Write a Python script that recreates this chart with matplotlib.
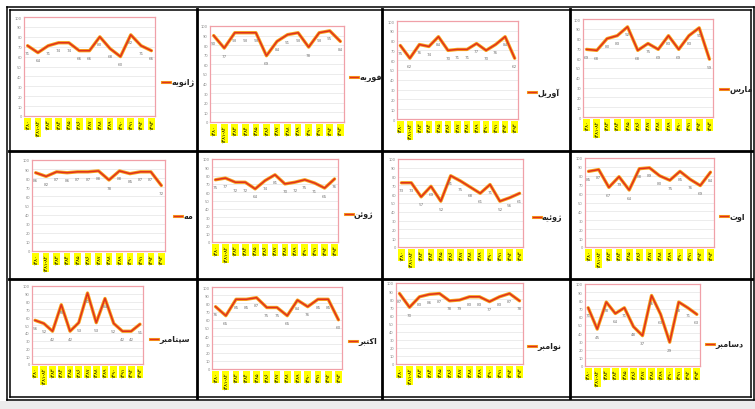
import matplotlib
matplotlib.use('Agg')
import matplotlib.pyplot as plt
from matplotlib.lines import Line2D
from matplotlib.patches import Rectangle

plt.rcParams['font.family'] = ['DejaVu Sans']

W, H = 755, 410

# monthly series, 13 periods each
months = ['ژانویه', 'فوریه', 'آوریل', 'مارس',
          'مه', 'ژوئن', 'ژوئیه', 'اوت',
          'سپتامبر', 'اکتبر', 'نوامبر', 'دسامبر']

periods = ['۱۳۸۰', '۱۳۸۱-۸۲', '۱۳۸۳', '۱۳۸۴', '۱۳۸۵', '۱۳۸۶', '۱۳۸۷',
           '۱۳۸۸', '۱۳۸۹', '۱۳۹۰', '۱۳۹۱', '۱۳۹۲', '۱۳۹۳']

jan = [71, 64, 71, 74, 74, 66, 66, 80, 68, 60, 82, 71, 66]
feb = [90, 77, 93, 93, 93, 69, 84, 91, 93, 78, 93, 95, 84]
apr = [75, 62, 76, 74, 84, 70, 71, 71, 77, 70, 76, 84, 62]
mar = [69, 68, 80, 83, 92, 68, 75, 69, 83, 69, 83, 91, 59]
may = [86, 82, 87, 86, 87, 87, 88, 78, 88, 85, 87, 87, 72]
jun = [75, 77, 72, 72, 64, 74, 81, 70, 72, 75, 71, 65, 76]
jul = [73, 73, 57, 69, 52, 81, 75, 68, 61, 71, 52, 56, 61]
aug = [85, 87, 67, 79, 64, 88, 89, 80, 75, 85, 76, 69, 84]
sep = [56, 52, 42, 76, 42, 53, 91, 53, 84, 52, 42, 42, 51]
oct_ = [76, 65, 85, 85, 87, 75, 75, 65, 84, 76, 85, 85, 60]
nov = [87, 70, 83, 86, 87, 78, 79, 83, 83, 77, 83, 87, 78]
dec = [71, 45, 78, 64, 71, 48, 37, 86, 63, 29, 78, 71, 63]

series = [jan, feb, apr, mar, may, jun, jul, aug, sep, oct_, nov, dec]

# plot boxes in pixels (left, top, right, bottom) and legend anchors
boxes = [(24, 18, 155, 117), (210, 27, 344, 123), (397, 22, 518, 120), (583, 20, 713, 118),
         (32, 161, 165, 252), (212, 160, 338, 243), (398, 160, 523, 248), (585, 159, 714, 248),
         (32, 287, 143, 365), (212, 288, 342, 370), (396, 284, 523, 365), (585, 285, 700, 367)]
legpos = [(162, 83), (350, 78), (528, 93), (720, 90),
          (174, 217), (345, 215), (533, 218), (720, 217),
          (150, 340), (349, 342), (528, 347), (706, 345)]

FORMS = {
    'ا': ('\uFE8D', '\uFE8E', None, None),
    'آ': ('\uFE81', '\uFE82', None, None),
    'ب': ('\uFE8F', '\uFE90', '\uFE91', '\uFE92'),
    'پ': ('\uFB56', '\uFB57', '\uFB58', '\uFB59'),
    'ت': ('\uFE95', '\uFE96', '\uFE97', '\uFE98'),
    'د': ('\uFEA9', '\uFEAA', None, None),
    'ر': ('\uFEAD', '\uFEAE', None, None),
    'ژ': ('\uFB8A', '\uFB8B', None, None),
    'س': ('\uFEB1', '\uFEB2', '\uFEB3', '\uFEB4'),
    'ف': ('\uFED1', '\uFED2', '\uFED3', '\uFED4'),
    'ک': ('\uFB8E', '\uFB8F', '\uFB90', '\uFB91'),
    'ل': ('\uFEDD', '\uFEDE', '\uFEDF', '\uFEE0'),
    'م': ('\uFEE1', '\uFEE2', '\uFEE3', '\uFEE4'),
    'ن': ('\uFEE5', '\uFEE6', '\uFEE7', '\uFEE8'),
    'و': ('\uFEED', '\uFEEE', None, None),
    'ه': ('\uFEE9', '\uFEEA', '\uFEEB', '\uFEEC'),
    'ی': ('\uFBFC', '\uFBFD', '\uFBFE', '\uFBFF'),
    'ئ': ('\uFE89', '\uFE8A', '\uFE8B', '\uFE8C'),
}


def shape(word):
    # join letters and flip to visual order (no bidi support in matplotlib)
    out = []
    for i, c in enumerate(word):
        f = FORMS[c]
        prev = i > 0 and FORMS[word[i - 1]][2] is not None
        nxt = i < len(word) - 1 and f[2] is not None
        if prev and nxt:
            out.append(f[3])
        elif prev:
            out.append(f[1])
        elif nxt:
            out.append(f[2])
        else:
            out.append(f[0])
    return ''.join(reversed(out))


def frac(x0, y0, x1, y1):
    return [x0 / W, 1 - y1 / H, (x1 - x0) / W, (y1 - y0) / H]


fig = plt.figure(figsize=(W / 100, H / 100), dpi=100)
fig.patch.set_facecolor('white')

for k, vals in enumerate(series):
    ax = fig.add_axes(frac(*boxes[k]))
    x = list(range(len(vals)))
    ax.plot(x, vals, color='#f7a21b', lw=2.4, solid_capstyle='round')
    ax.plot(x, vals, color='#e0301e', lw=1.1)
    for i, v in enumerate(vals):
        ax.annotate(str(v), (i, v), xytext=(0, -4), textcoords='offset points',
                    ha='center', va='top', fontsize=3, color='#7a7a7a')
    ax.set_xlim(-0.35, len(vals) - 0.65)
    ax.set_ylim(0, 100)
    ax.set_yticks(range(0, 101, 10))
    ax.tick_params(axis='y', length=0, labelsize=2.6, labelcolor='#888888', pad=1.5)
    ax.set_xticks(x)
    ax.set_xticklabels(periods, rotation=90, fontsize=3.6)
    ax.tick_params(axis='x', length=0, pad=2)
    for lbl in ax.get_xticklabels():
        lbl.set_bbox(dict(facecolor='#ffff00', edgecolor='none', pad=0.6))
    ax.grid(axis='y', color='#e4e4e4', lw=0.5)
    ax.set_axisbelow(True)
    for s in ax.spines.values():
        s.set_color('#f0a0a8')
        s.set_linewidth(0.9)

    lx, ly = legpos[k]
    fig.add_artist(Line2D([lx / W, (lx + 8) / W], [1 - ly / H, 1 - ly / H],
                          color='#f7a21b', lw=2.2, transform=fig.transFigure))
    fig.add_artist(Line2D([lx / W, (lx + 8) / W], [1 - ly / H, 1 - ly / H],
                          color='#e0301e', lw=1.0, transform=fig.transFigure))
    fig.text((lx + 9) / W, 1 - ly / H, shape(months[k]), fontsize=5.8,
             ha='left', va='center', color='#222222', fontweight='bold')


def hline(y, x0, x1, lw):
    fig.add_artist(Line2D([x0 / W, x1 / W], [1 - y / H, 1 - y / H], color='black',
                          lw=lw, transform=fig.transFigure))


def vline(x, y0, y1, lw):
    fig.add_artist(Line2D([x / W, x / W], [1 - y0 / H, 1 - y1 / H], color='black',
                          lw=lw, transform=fig.transFigure))


# table grid: doubled outer frame, heavy inner dividers
for d in (0, 3):
    hline(8 + d, 7 + d, 754 - d, 1.1)
    hline(401 - d, 7 + d, 754 - d, 1.1)
    vline(7 + d, 8 + d, 401 - d, 1.1)
    vline(754 - d, 8 + d, 401 - d, 1.1)
for xv in (197, 382, 570):
    vline(xv, 10, 399, 2.0)
for yv in (152, 280):
    hline(yv, 9, 752, 2.0)

fig.add_artist(Rectangle((0, 0), 1, 8 / H, transform=fig.transFigure,
                         facecolor='#ececec', edgecolor='none', zorder=-1))

fig.savefig('out.png', dpi=100)
